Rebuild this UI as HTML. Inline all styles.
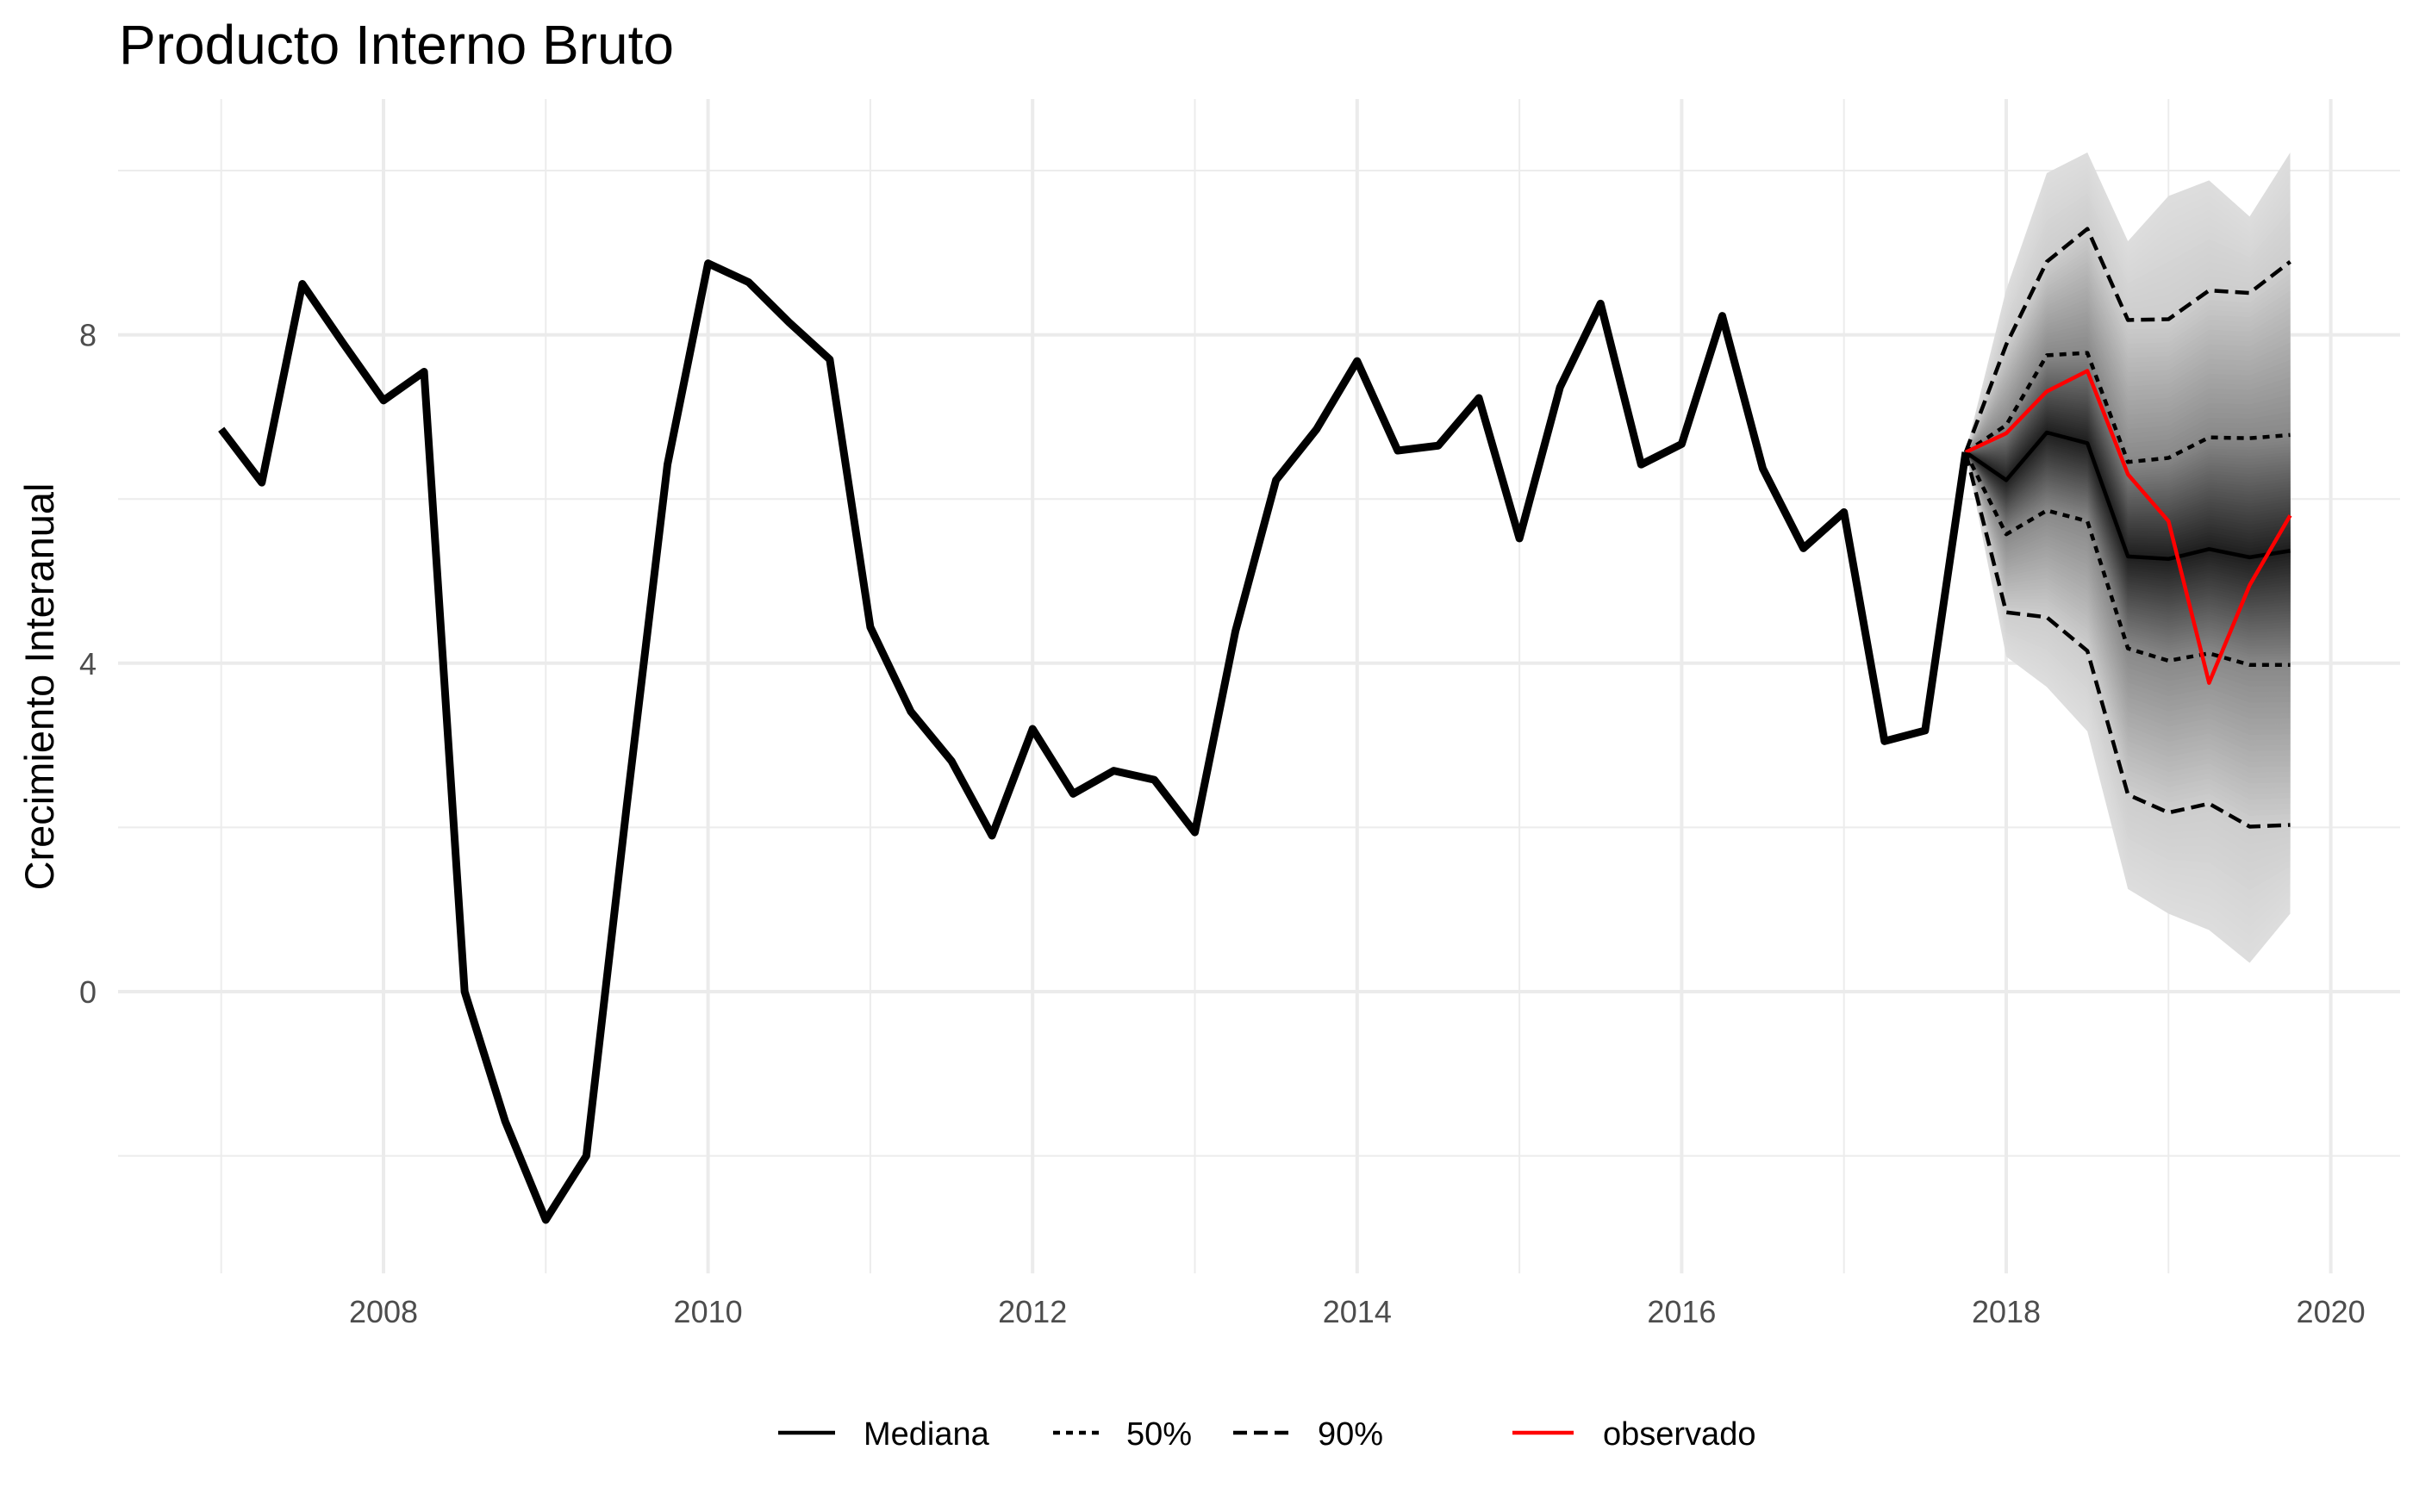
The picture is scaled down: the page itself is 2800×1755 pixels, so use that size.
<!DOCTYPE html>
<html><head><meta charset="utf-8"><style>
body{margin:0;background:#fff;}
svg text{font-family:"Liberation Sans",sans-serif;}
</style></head><body>
<svg id="chart" width="2800" height="1750" viewBox="0 0 2800 1750" xmlns="http://www.w3.org/2000/svg">
<rect width="2800" height="1750" fill="#fff"/>
<text x="138" y="74" font-size="64" fill="#000">Producto Interno Bruto</text>
<g id="grid"></g>
<g id="fan"></g>
<g id="lines"></g>
<g id="axes"></g>
<text transform="translate(62,797) rotate(-90)" text-anchor="middle" font-size="47" fill="#000">Crecimiento Interanual</text>
<g>
<g><line x1="903" y1="1663" x2="969" y2="1663" stroke="#000" stroke-width="4.5"/><text x="1002" y="1677" font-size="38">Mediana</text></g>
<g><line x1="1222" y1="1663" x2="1276" y2="1663" stroke="#000" stroke-width="4.5" stroke-dasharray="8,7"/><text x="1307" y="1677" font-size="38">50%</text></g>
<g><line x1="1431" y1="1663" x2="1500" y2="1663" stroke="#000" stroke-width="4.5" stroke-dasharray="16,8"/><text x="1529" y="1677" font-size="38">90%</text></g>
<g><line x1="1755" y1="1663" x2="1826" y2="1663" stroke="#ff0000" stroke-width="4.5"/><text x="1860" y="1677" font-size="38">observado</text></g>
</g>
</svg>
<script>
const histStart = 2007.0;
const histValues = [6.85,6.2,8.62,7.9,7.2,7.55,0,-1.58,-2.78,-2.0,2.28,6.42,8.87,8.64,8.15,7.7,4.44,3.41,2.81,1.9,3.2,2.41,2.69,2.58,1.94,4.39,6.23,6.85,7.68,6.59,6.65,7.23,5.52,7.36,8.38,6.42,6.67,8.23,6.37,5.4,5.84,3.05,3.18,6.57];
const fcStart = 2017.75;
const median = [6.57,6.23,6.81,6.68,5.30,5.27,5.39,5.29,5.37];
const observed = [6.57,6.80,7.31,7.56,6.30,5.73,3.76,4.95,5.80];
const up50 = [6.57,6.90,7.75,7.78,6.45,6.50,6.75,6.74,6.78];
const lo50 = [6.57,5.57,5.86,5.73,4.18,4.03,4.12,3.98,3.98];
const up90 = [6.57,7.88,8.89,9.29,8.18,8.19,8.54,8.51,8.89];
const lo90 = [6.57,4.62,4.56,4.15,2.40,2.18,2.29,2.01,2.03];
const upOuter = [6.57,8.55,9.97,10.22,9.14,9.69,9.88,9.44,10.22];
const loOuter = [6.57,4.08,3.71,3.17,1.25,0.95,0.75,0.35,0.95];
const yTicks = [0,4,8];
const yMinor = [-2,2,6,10];
const xTicks = [2008,2010,2012,2014,2016,2018,2020];
const xMinor = [2007,2009,2011,2013,2015,2017,2019];

const NS="http://www.w3.org/2000/svg";
const X0=137,X1=2785,Y0=115,Y1=1478;
function sx(t){return 445+(t-2008)*188.3;}
function sy(v){return 1151-v*95.3;}
function mk(tag,attrs,parent){const e=document.createElementNS(NS,tag);for(const k in attrs)e.setAttribute(k,attrs[k]);parent.appendChild(e);return e;}
const grid=document.getElementById('grid'),fan=document.getElementById('fan'),lines=document.getElementById('lines'),axes=document.getElementById('axes');
yMinor.forEach(v=>{const l=mk('line',{x1:X0,x2:X1,y1:sy(v),y2:sy(v),stroke:'#ececec','stroke-width':2},grid);

});
xMinor.forEach(t=>{const l=mk('line',{x1:sx(t),x2:sx(t),y1:Y0,y2:Y1,stroke:'#ececec','stroke-width':2},grid);

});
yTicks.forEach(v=>{const l=mk('line',{x1:X0,x2:X1,y1:sy(v),y2:sy(v),stroke:'#ebebeb','stroke-width':4},grid);


const t=mk('text',{x:112,y:sy(v)+13,'text-anchor':'end','font-size':36,fill:'#4d4d4d'},axes);t.textContent=v;

});
xTicks.forEach(v=>{const l=mk('line',{x1:sx(v),x2:sx(v),y1:Y0,y2:Y1,stroke:'#ebebeb','stroke-width':4},grid);


const t=mk('text',{x:sx(v),y:1535,'text-anchor':'middle','font-size':36,fill:'#4d4d4d'},axes);t.textContent=v;

});

const fx=i=>sx(fcStart+i*0.25);
function band(up,lo,col){
  let d='M'+up.map((v,i)=>fx(i)+','+sy(v)).join('L');
  d+='L'+lo.map((v,i)=>fx(i)+','+sy(v)).reverse().join('L')+'Z';
  const p=mk('path',{d:d,fill:col},fan);
  
  
}
function lerpArr(a,b,f){return a.map((v,i)=>v+(b[i]-v)*f);}
function g(c){c=Math.round(c);return 'rgb('+c+','+c+','+c+')';}
const segs=[[upOuter,loOuter,up90,lo90,221,205,15],[up90,lo90,up50,lo50,205,135,30],[up50,lo50,median,median,135,28,40]];
segs.forEach(s=>{for(let k=0;k<s[6];k++){const f=k/s[6];
  band(lerpArr(s[0],s[2],f),lerpArr(s[1],s[3],f),g(s[4]+(s[5]-s[4])*f));}});

function line(vals,t0,attrs,name){
  const pts=vals.map((v,i)=>sx(t0+i*0.25)+','+sy(v)).join(' ');
  const p=mk('polyline',Object.assign({points:pts,fill:'none','stroke-linejoin':'round'},attrs),lines);
  
  
}
line(up90,fcStart,{stroke:'#000','stroke-width':4.5,'stroke-dasharray':'16,8'},'upper-90-line');
line(lo90,fcStart,{stroke:'#000','stroke-width':4.5,'stroke-dasharray':'16,8'},'lower-90-line');
line(up50,fcStart,{stroke:'#000','stroke-width':4.5,'stroke-dasharray':'8,7'},'upper-50-line');
line(lo50,fcStart,{stroke:'#000','stroke-width':4.5,'stroke-dasharray':'8,7'},'lower-50-line');
line(median,fcStart,{stroke:'#000','stroke-width':4.5},'median-line');
line(observed,fcStart,{stroke:'#ff0000','stroke-width':4.5},'observed-line');
line(histValues,histStart,{stroke:'#000','stroke-width':9},'history-line');
</script>
</body></html>
